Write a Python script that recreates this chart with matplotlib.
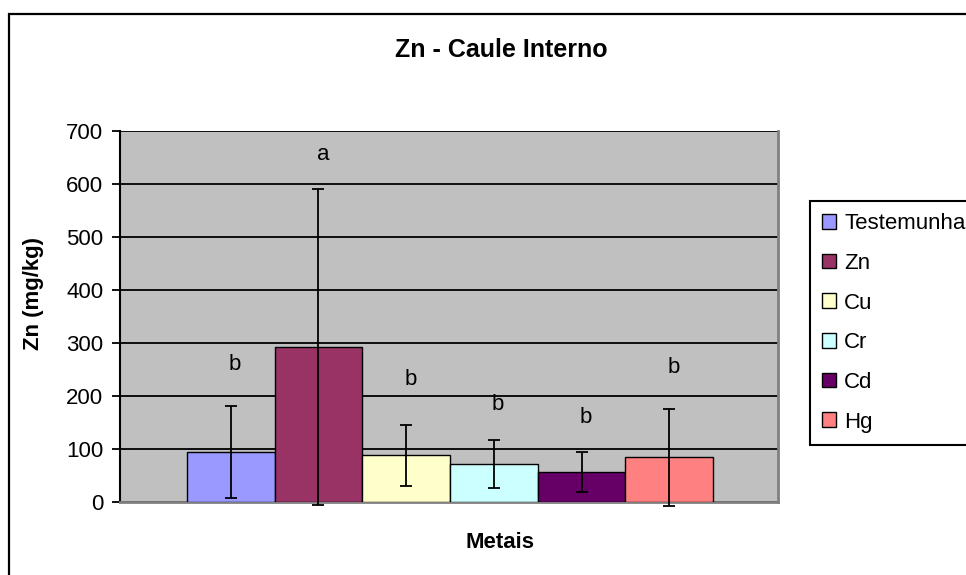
import matplotlib
matplotlib.use("Agg")
import matplotlib.pyplot as plt
from matplotlib.patches import Rectangle
import numpy as np

plt.rcParams['font.family'] = ['Liberation Sans', 'DejaVu Sans']

# tratamentos, medias, desvios e letras do teste
metais = ['Testemunha', 'Zn', 'Cu', 'Cr', 'Cd', 'Hg']
medias = [95, 292, 88, 72, 56, 84]
desvios = [87, 298, 58, 45, 38, 92]
letras = ['b', 'a', 'b', 'b', 'b', 'b']
letra_y = [259, 656, 231, 184, 159, 253]
cores = ['#9999FF', '#993366', '#FFFFCC', '#CCFFFF', '#660066', '#FF8080']

fig = plt.figure(figsize=(9.66, 5.75), dpi=100)
W, H = 966, 575
ax = fig.add_axes([120 / W, 1 - 502 / H, 658 / W, 371 / H])
ax.set_facecolor('#C0C0C0')

x = np.arange(len(metais))
barras = ax.bar(x, medias, width=1.0, color=cores, edgecolor='black',
                linewidth=1.0, zorder=3)
ax.errorbar(x, medias, yerr=desvios, fmt='none', ecolor='black',
            elinewidth=1.3, capsize=4.5, capthick=1.3, zorder=4,
            clip_on=False)

for xi, l, ly in zip(x, letras, letra_y):
    ax.text(xi + 0.05, ly, l, ha='center', va='center', fontsize=16, zorder=5)

ax.set_xlim(-1.264, 6.241)
ax.set_ylim(0, 700)
ax.set_yticks(range(0, 701, 100))
ax.set_xticks([])
ax.yaxis.grid(True, color='black', linewidth=1.3, zorder=1)
ax.set_axisbelow(True)
ax.tick_params(axis='y', direction='out', length=6, width=1.3,
               labelsize=16, pad=6)

ax.spines['top'].set_visible(False)
ax.spines['right'].set_color('#808080')
ax.spines['right'].set_linewidth(2)
ax.spines['bottom'].set_color('#808080')
ax.spines['bottom'].set_linewidth(2)
ax.spines['left'].set_color('black')
ax.spines['left'].set_linewidth(1.5)

fig.text(501 / W, 1 - 50 / H, 'Zn - Caule Interno', ha='center', va='center',
         fontsize=18, fontweight='bold')
fig.text(500 / W, 1 - 542 / H, 'Metais', ha='center', va='center',
         fontsize=16, fontweight='bold')
fig.text(33 / W, 1 - 294 / H, 'Zn (mg/kg)', ha='center', va='center',
         rotation=90, fontsize=16, fontweight='bold')

# moldura da area do grafico
fig.patches.append(Rectangle((9 / W, -0.1), 1.2, 1.1 - 14 / H,
                             transform=fig.transFigure, fill=False,
                             edgecolor='black', linewidth=1.6))

leg = ax.legend(barras, metais, loc='upper left',
                bbox_to_anchor=(810 / W, 1 - 201 / H),
                bbox_transform=fig.transFigure, borderaxespad=0,
                fontsize=16, handlelength=0.63, handleheight=0.63,
                handletextpad=0.36, labelspacing=0.84, borderpad=0.55,
                fancybox=False, frameon=True)
leg.get_frame().set_edgecolor('black')
leg.get_frame().set_linewidth(1.5)
leg.get_frame().set_facecolor('white')
leg.get_frame().set_alpha(1)

fig.savefig('out.png', dpi=100)
